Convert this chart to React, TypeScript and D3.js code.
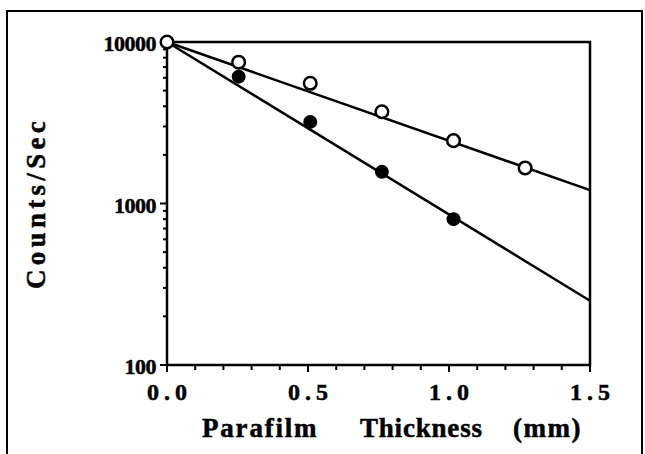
import React from 'react';
import * as d3 from 'd3';

// values
const THICKNESS_OPEN = [0, 0.254, 0.508, 0.762, 1.016, 1.27];
const COUNTS_OPEN = [10000, 7500, 5550, 3700, 2450, 1660];
const THICKNESS_FILLED = [0.254, 0.508, 0.762, 1.016];
const COUNTS_FILLED = [6100, 3200, 1570, 800];
const FIT_X = [0, 1.5];
const FIT_OPEN = [10000, 1210];
const FIT_FILLED = [10000, 250];
const X_TICKS = [0, 0.5, 1.0, 1.5];
const Y_TICKS = [100, 1000, 10000];

const WIDTH = 645;
const HEIGHT = 454;
const LEFT = 167;
const RIGHT = 590;
const TOP = 42;
const BOTTOM = 365;
const FONT = '"Liberation Serif", "Times New Roman", serif';

const x = d3.scaleLinear().domain([0, 1.5]).range([LEFT, RIGHT]);
const y = d3.scaleLog().domain([100, 10000]).range([BOTTOM, TOP]);

const line = d3.line<[number, number]>()
  .x(d => x(d[0]))
  .y(d => y(d[1]));

const xMinor = d3.range(0, 15.5).map(i => i / 10);
const yMinor = y.ticks().filter(v => !Y_TICKS.includes(v));

export default function App() {
  const fitOpen = FIT_X.map((t, i) => [t, FIT_OPEN[i]] as [number, number]);
  const fitFilled = FIT_X.map((t, i) => [t, FIT_FILLED[i]] as [number, number]);
  return (
    <svg width={WIDTH} height={HEIGHT}
      style={{ position: 'absolute', left: 0, top: 0, background: '#fff' }}>
      <rect x={7} y={11} width={635} height={460} fill="none" stroke="#000" strokeWidth={2} />

      {/* x ticks */}
      {xMinor.map((t, i) => (
        <line key={'xm' + i} x1={x(t)} x2={x(t)} y1={BOTTOM} y2={BOTTOM + (i % 5 === 0 ? 7 : 5)}
          stroke="#000" strokeWidth={2} />
      ))}
      {/* y ticks */}
      {yMinor.map((v, i) => (
        <line key={'ym' + i} x1={LEFT - 4} x2={LEFT} y1={y(v)} y2={y(v)} stroke="#000" strokeWidth={2} />
      ))}
      {Y_TICKS.map(v => (
        <line key={'yM' + v} x1={LEFT - 7} x2={LEFT} y1={y(v)} y2={y(v)} stroke="#000" strokeWidth={2} />
      ))}

      <rect x={LEFT} y={TOP} width={RIGHT - LEFT} height={BOTTOM - TOP}
        fill="none" stroke="#000" strokeWidth={2.5} />

      <g fontFamily={FONT} fontWeight="bold" stroke="#000" strokeWidth={0.5}>
        {X_TICKS.map(t => (
          <text key={'xl' + t} x={x(t) + 2.5} y={400} textAnchor="middle"
            fontSize={24} letterSpacing={5}>
            {t.toFixed(1)}
          </text>
        ))}
        {Y_TICKS.map(v => (
          <text key={'yl' + v} x={156} y={y(v) + 9} textAnchor="end"
            fontSize={22} letterSpacing={-0.5}>
            {v}
          </text>
        ))}
        <g fontSize={27}>
          <text x={202} y={437} letterSpacing={1.8}>Parafilm</text>
          <text x={360} y={437} letterSpacing={0.8}>Thickness</text>
          <text x={513} y={437} letterSpacing={1.5}>(mm)</text>
        </g>
        <text transform="translate(45,203) rotate(-90)" textAnchor="middle"
          fontSize={27} letterSpacing={4.3}>
          Counts/Sec
        </text>
      </g>

      <path d={line(fitOpen) ?? ''} fill="none" stroke="#000" strokeWidth={2.5} />
      <path d={line(fitFilled) ?? ''} fill="none" stroke="#000" strokeWidth={2.5} />

      {THICKNESS_FILLED.map((t, i) => (
        <circle key={'f' + i} cx={x(t)} cy={y(COUNTS_FILLED[i])} r={7} fill="#000" />
      ))}
      {THICKNESS_OPEN.map((t, i) => (
        <circle key={'o' + i} cx={x(t)} cy={y(COUNTS_OPEN[i])} r={6.3}
          fill="#fff" stroke="#000" strokeWidth={2.5} />
      ))}
    </svg>
  );
}
